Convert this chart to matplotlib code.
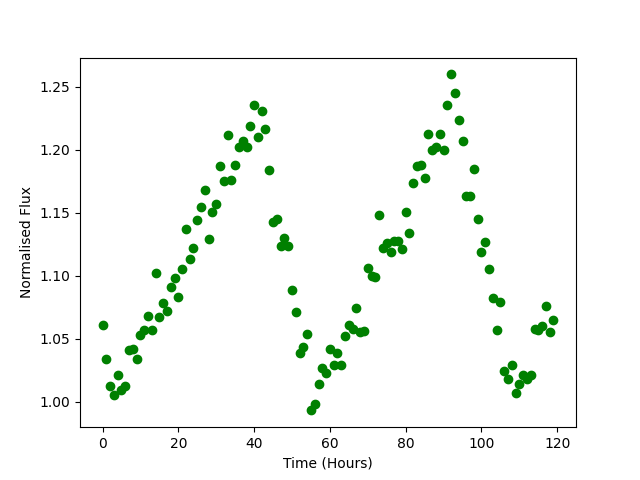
import matplotlib
matplotlib.use('Agg')
import matplotlib.pyplot as plt
import numpy as np

hours = np.arange(120)
flux = [1.061, 1.034, 1.012, 1.005, 1.021, 1.009, 1.012, 1.041, 1.042, 1.034,
        1.053, 1.057, 1.068, 1.057, 1.102, 1.067, 1.078, 1.072, 1.091, 1.098,
        1.083, 1.105, 1.137, 1.113, 1.122, 1.144, 1.155, 1.168, 1.129, 1.151,
        1.157, 1.187, 1.175, 1.212, 1.176, 1.188, 1.202, 1.207, 1.202, 1.219,
        1.236, 1.210, 1.231, 1.217, 1.184, 1.143, 1.145, 1.124, 1.130, 1.124,
        1.089, 1.071, 1.039, 1.043, 1.054, 0.993, 0.998, 1.014, 1.027, 1.023,
        1.042, 1.029, 1.039, 1.029, 1.052, 1.061, 1.058, 1.074, 1.055, 1.056,
        1.106, 1.100, 1.099, 1.148, 1.122, 1.126, 1.119, 1.128, 1.128, 1.121,
        1.151, 1.134, 1.174, 1.187, 1.188, 1.178, 1.213, 1.200, 1.202, 1.213,
        1.200, 1.236, 1.260, 1.245, 1.224, 1.207, 1.163, 1.163, 1.185, 1.145,
        1.119, 1.127, 1.105, 1.082, 1.057, 1.079, 1.024, 1.018, 1.029, 1.007,
        1.014, 1.021, 1.018, 1.021, 1.058, 1.057, 1.060, 1.076, 1.055, 1.065]

plt.figure(figsize=(6.4, 4.8), dpi=100)
plt.plot(hours, flux, 'go')
plt.xlabel('Time (Hours)')
plt.ylabel('Normalised Flux')
plt.savefig('out.png')
